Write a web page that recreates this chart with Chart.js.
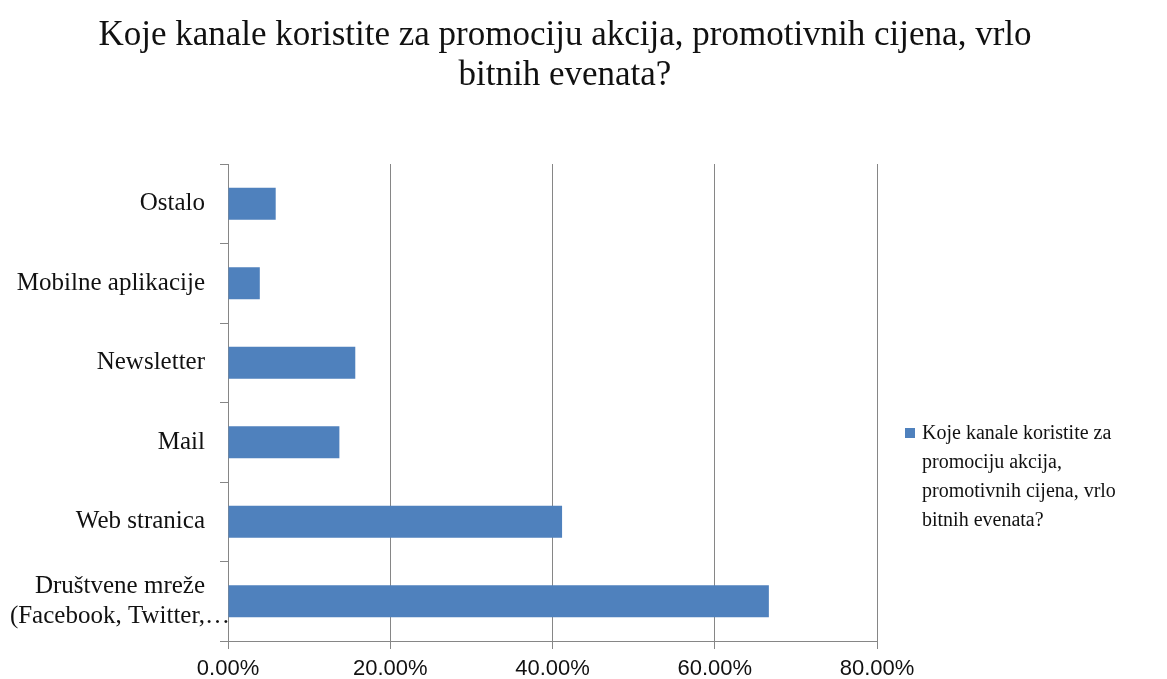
<!DOCTYPE html>
<html>
<head>
<meta charset="utf-8">
<script src="https://cdn.jsdelivr.net/npm/chart.js@4.4.1/dist/chart.umd.min.js"></script>
<style>
  body { margin: 0; background: #fff; }
  #wrap { position: relative; width: 1167px; height: 679px; overflow: hidden; }
  #chart { position: absolute; left: 0; top: 0; }
  #title {
    position: absolute; left: 65px; width: 1000px; top: 14px;
    text-align: center;
    font-family: "Liberation Serif", "Times New Roman", serif;
    font-size: 35px; line-height: 40px; color: #111;
  }
  #legend {
    position: absolute; left: 905px; top: 418px;
    font-family: "Liberation Serif", "Times New Roman", serif;
    font-size: 20px; line-height: 29px; color: #111;
  }
  #legend .box {
    position: absolute; left: 0; top: 10px; width: 10px; height: 10px; background: #4f81bd;
  }
  #legend .txt { margin-left: 17px; }
</style>
</head>
<body>
<div id="wrap">
  <canvas id="chart" width="1167" height="679"></canvas>
  <div id="title"></div>
  <div id="legend"></div>
</div>
<script>
// data
const titleLines = ['Koje kanale koristite za promociju akcija, promotivnih cijena, vrlo', 'bitnih evenata?'];
const categories = [
    'Ostalo',
    'Mobilne aplikacije',
    'Newsletter',
    'Mail',
    'Web stranica',
    ['Društvene mreže', '(Facebook, Twitter,…']
];
const shares = [5.88, 3.92, 15.69, 13.73, 41.18, 66.67];
const seriesName = 'Koje kanale koristite za promociju akcija, promotivnih cijena, vrlo bitnih evenata?';
const legendLines = ['Koje kanale koristite za', 'promociju akcija,', 'promotivnih cijena, vrlo', 'bitnih evenata?'];

const serif = '"Liberation Serif", "Times New Roman", serif';
const sans = '"Liberation Sans", Arial, sans-serif';
const barColor = '#4f81bd';
const gridColor = '#868686';

// title + legend as html text (wrapped like the original)
document.getElementById('title').innerHTML = titleLines.join('<br>');
document.getElementById('legend').innerHTML =
    '<span class="box"></span><div class="txt">' + legendLines.join('<br>') + '</div>';

// excel centres wrapped category text, so pad the first line of multi-line labels
const EN = '\u2002';
function yLabel(label) {
    if (Array.isArray(label)) {
        return label.map((line, i) => i < label.length - 1 ? line + EN + EN : line);
    }
    return label + EN + EN;
}

const ctx = document.getElementById('chart').getContext('2d');
new Chart(ctx, {
    type: 'bar',
    data: {
        labels: categories,
        datasets: [{
            label: seriesName,
            data: shares,
            backgroundColor: barColor,
            barPercentage: 0.4,
            categoryPercentage: 1
        }]
    },
    options: {
        indexAxis: 'y',
        responsive: false,
        animation: false,
        layout: { padding: { left: 0, right: 290, top: 164, bottom: 0 } },
        plugins: {
            legend: { display: false },
            tooltip: { enabled: false }
        },
        scales: {
            x: {
                min: 0,
                max: 80,
                ticks: {
                    stepSize: 20,
                    color: '#111',
                    font: { family: sans, size: 22 },
                    padding: 7,
                    callback: v => v.toFixed(2) + '%'
                },
                grid: { color: gridColor, lineWidth: 1, tickLength: 8 },
                border: { color: gridColor },
                afterFit: s => { s.height = 38; }
            },
            y: {
                ticks: {
                    color: '#111',
                    font: { family: serif, size: 25 },
                    padding: -10,
                    callback: function (v, i) { return yLabel(categories[i]); }
                },
                grid: { drawOnChartArea: false, color: gridColor, tickLength: 8 },
                border: { color: gridColor },
                afterFit: s => { s.width = 228; }
            }
        }
    }
});
</script>
</body>
</html>
